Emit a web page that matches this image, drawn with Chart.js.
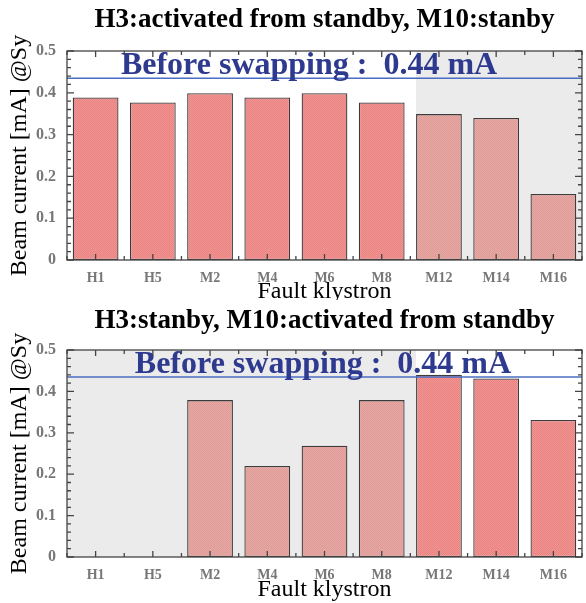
<!DOCTYPE html>
<html>
<head>
<meta charset="utf-8">
<script src="https://cdn.jsdelivr.net/npm/chart.js@4.4.1/dist/chart.umd.min.js"></script>
<style>
  html, body { margin: 0; padding: 0; background: #fff; }
  .panel { position: absolute; left: 0; width: 586px; }
</style>
</head>
<body>
<div class="panel" style="top:0;height:300px"><canvas id="topChart"></canvas></div>
<div class="panel" style="top:300px;height:303px"><canvas id="bottomChart"></canvas></div>
<script>
const klystrons = ["H1", "H5", "M2", "M4", "M6", "M8", "M12", "M14", "M16"];
// beam current [mA] for each fault klystron
const h3ActivatedCurrent = [0.389, 0.377, 0.399, 0.389, 0.399, 0.377, 0.349, 0.340, 0.158];
const m10ActivatedCurrent = [null, null, 0.379, 0.220, 0.269, 0.379, 0.440, 0.431, 0.331];
const beforeSwapCurrent = 0.435;
const beforeSwapText = "Before swapping :  0.44 mA";
const yMin = 0;
const yMax = 0.5;
const yStep = 0.1;
// klystrons drawn on grey background
const topShaded = ["M12", "M14", "M16"];
const bottomShaded = ["H1", "H5", "M2", "M4", "M6", "M8"];

const FONT = "'Liberation Serif', 'Times New Roman', serif";
const BAR_PCT = 0.8;

function checker(ctx, a, b) {
  const c = document.createElement("canvas");
  c.width = 2;
  c.height = 2;
  const g = c.getContext("2d");
  g.fillStyle = a;
  g.fillRect(0, 0, 2, 2);
  g.fillStyle = b;
  g.fillRect(0, 0, 1, 1);
  g.fillRect(1, 1, 1, 1);
  return ctx.createPattern(c, "repeat");
}

const framePlugin = {
  id: "frame",
  beforeDatasetsDraw(chart, args, opts) {
    const { ctx, chartArea: a, scales: { x } } = chart;
    const idx = opts.shaded.map((k) => klystrons.indexOf(k));
    const first = Math.min(...idx);
    const last = Math.max(...idx);
    const x0 = first === 0 ? a.left : x.getPixelForValue(first - BAR_PCT / 2);
    const x1 = last === klystrons.length - 1 ? a.right : x.getPixelForValue(last + 1 - BAR_PCT / 2);
    ctx.save();
    ctx.fillStyle = "#ebebeb";
    ctx.fillRect(x0, a.top, x1 - x0, a.height);
    ctx.restore();
  },
  afterDatasetsDraw(chart, args, opts) {
    const { ctx, chartArea: a, scales: { y } } = chart;
    const py = y.getPixelForValue(beforeSwapCurrent);
    ctx.save();
    ctx.strokeStyle = "#4a6cc2";
    ctx.lineWidth = 1.5;
    ctx.beginPath();
    ctx.moveTo(a.left, py);
    ctx.lineTo(a.right, py);
    ctx.stroke();
    ctx.fillStyle = "#2e3a8f";
    ctx.font = "bold 32px " + FONT;
    ctx.textAlign = "center";
    ctx.textBaseline = "alphabetic";
    ctx.fillText(beforeSwapText, a.left + a.width * opts.labelAt, py - 4);
    ctx.restore();
  },
  afterDraw(chart) {
    const { ctx, chartArea: a, scales: { x, y } } = chart;
    ctx.save();
    ctx.strokeStyle = "#444";
    ctx.lineWidth = 1.3;
    ctx.strokeRect(a.left, a.top, a.width, a.height);
    ctx.beginPath();
    for (let v = yMin; v <= yMax + 1e-9; v += yStep / 5) {
      const py = y.getPixelForValue(v);
      const r = v / yStep;
      const len = Math.abs(r - Math.round(r)) < 1e-6 ? 7 : 4;
      ctx.moveTo(a.left, py);
      ctx.lineTo(a.left + len, py);
      ctx.moveTo(a.right, py);
      ctx.lineTo(a.right - len, py);
    }
    for (let i = -0.5; i <= klystrons.length - 0.5; i += 0.5) {
      const px = x.getPixelForValue(i);
      const len = Number.isInteger(i) ? 6 : 4;
      ctx.moveTo(px, a.bottom);
      ctx.lineTo(px, a.bottom - len);
      ctx.moveTo(px, a.top);
      ctx.lineTo(px, a.top + len);
    }
    ctx.stroke();
    ctx.restore();
  },
};

function makeChart(id, title, values, shaded, layout) {
  const ctx = document.getElementById(id).getContext("2d");
  const strong = checker(ctx, "#f19492", "#e98381");
  const light = checker(ctx, "#e8a8a4", "#de9a96");
  const colors = klystrons.map((k) => (shaded.includes(k) ? light : strong));

  return new Chart(ctx, {
    type: "bar",
    data: {
      labels: klystrons,
      datasets: [
        {
          data: values,
          backgroundColor: colors,
          borderColor: "#3c3c3c",
          borderWidth: 1.3,
          borderSkipped: false,
          barPercentage: BAR_PCT,
          categoryPercentage: 1.0,
        },
      ],
    },
    options: {
      responsive: true,
      maintainAspectRatio: false,
      animation: false,
      layout: { padding: { left: 0, right: 4, top: 0, bottom: 0 } },
      plugins: {
        legend: { display: false },
        tooltip: { enabled: false },
        title: {
          display: true,
          text: title,
          fullSize: false,
          color: "#000",
          font: { family: FONT, size: 27, weight: "bold", lineHeight: 1.2 },
          padding: layout.titlePad,
        },
        frame: { shaded: shaded, labelAt: layout.labelAt },
      },
      scales: {
        x: {
          grid: { display: false, drawTicks: false },
          border: { display: false },
          ticks: {
            color: "#777",
            font: { family: FONT, size: 14, weight: "bold" },
            padding: 10,
          },
          title: {
            display: true,
            text: "Fault klystron",
            color: "#000",
            font: { family: FONT, size: 24, lineHeight: 1 },
            padding: { top: 0, bottom: layout.xTitlePad },
          },
          afterFit(scale) {
            scale.height = layout.xHeight;
          },
        },
        y: {
          min: yMin,
          max: yMax,
          grid: { display: false, drawTicks: false },
          border: { display: false },
          ticks: {
            stepSize: yStep,
            color: "#777",
            font: { family: FONT, size: 16, weight: "bold" },
            padding: 11,
          },
          title: {
            display: true,
            text: "Beam current [mA] @Sy",
            color: "#000",
            font: { family: FONT, size: 24, lineHeight: 1 },
            padding: { top: 7.5, bottom: 0 },
          },
          afterFit(scale) {
            scale.width = 67;
          },
        },
      },
    },
    plugins: [framePlugin],
  });
}

makeChart("topChart", "H3:activated from standby, M10:stanby", h3ActivatedCurrent, topShaded, {
  titlePad: { top: 4.3, bottom: 14.3 },
  xHeight: 40,
  xTitlePad: -4,
  labelAt: 0.47,
});

makeChart("bottomChart", "H3:stanby, M10:activated from standby", m10ActivatedCurrent, bottomShaded, {
  titlePad: { top: 4.8, bottom: 12.8 },
  xHeight: 46,
  xTitlePad: 1,
  labelAt: 0.497,
});
</script>
</body>
</html>
